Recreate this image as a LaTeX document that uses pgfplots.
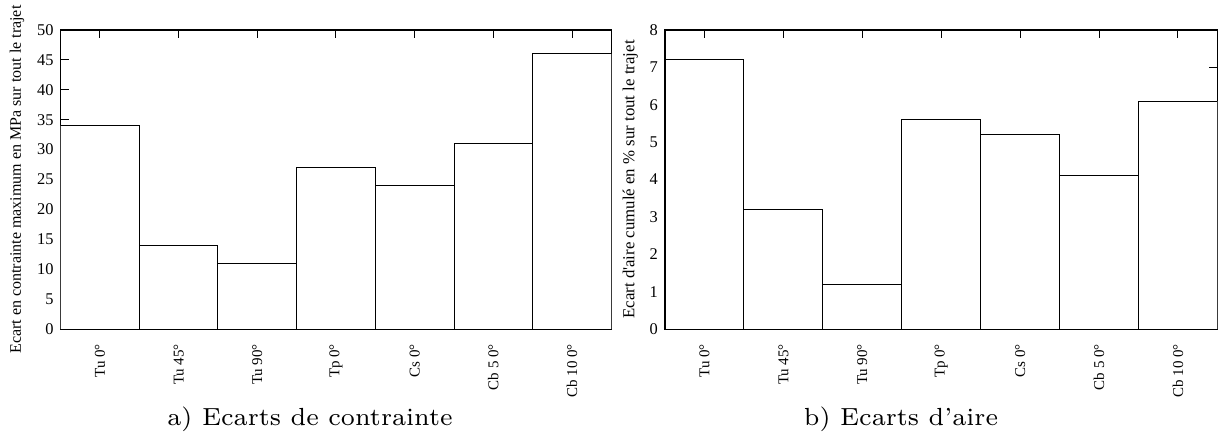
\documentclass[border=0pt]{standalone}
\usepackage{fontspec}
\newfontfamily\tms{Liberation Serif}
\usepackage{graphicx}
\usepackage{pgfplots}
\pgfplotsset{compat=1.18}
\pgfplotsset{
  gp/.style={
    scale only axis, height=149.5pt, anchor=south west,
    xmin=-0.5, xmax=6.5, ymin=0,
    xtick={0,...,6},
    xticklabels={Tu 0°, Tu 45°, Tu 90°, Tp 0°, Cs 0°, Cb 5 0°, Cb 10 0°},
    tick align=inside, major tick length=4pt,
    xtick pos=both, ytick pos=both,
    axis line style={line width=0.6pt},
    every tick/.style={black, line width=0.5pt},
    y tick label style={font=\tms\fontsize{8.2}{9}\selectfont},
    x tick label style={font=\tms\fontsize{7.5}{9}\selectfont, rotate=90, anchor=east},
    xticklabel shift=4pt,
    /pgf/number format/assume math mode=true,
  },
  gpbar/.style={ybar, bar width=1, bar shift=0pt, fill=white, draw=black, line width=0.5pt},
}
\begin{document}
\begin{tikzpicture}[x=1pt,y=1pt]
\path[use as bounding box] (0,0) rectangle (609.5,219.5);
\begin{axis}[gp, at={(30.3pt,55pt)}, width=275.4pt,
  ymax=50, ytick={0,5,...,50},
  ylabel={Ecart en contrainte maximum en MPa sur tout le trajet},
  every axis y label/.style={at={(axis description cs:-0.079,0.5)}, rotate=90, anchor=center, font=\tms\fontsize{8}{9}\selectfont}]
\addplot[gpbar] coordinates {(0,34) (1,14) (2,11) (3,27) (4,24) (5,31) (6,46)};
\end{axis}
\begin{axis}[gp, at={(332.5pt,55pt)}, width=276.2pt,
  ymax=8, ytick={0,1,...,8},
  ylabel={Ecart d'aire cumulé en \% sur tout le trajet},
  every axis y label/.style={at={(axis description cs:-0.063,0.5)}, rotate=90, anchor=center, font=\tms\fontsize{8.4}{9}\selectfont}]
\addplot[gpbar] coordinates {(0,7.2) (1,3.2) (2,1.2) (3,5.6) (4,5.2) (5,4.1) (6,6.1)};
\end{axis}
\node[anchor=base, inner sep=0pt] at (155,7) {\scalebox{1.77}{\fontsize{7}{8}\selectfont a) Ecarts de contrainte}};
\node[anchor=base, inner sep=0pt] at (450.5,7) {\scalebox{1.77}{\fontsize{7}{8}\selectfont b) Ecarts d'aire}};
\end{tikzpicture}
\end{document}
